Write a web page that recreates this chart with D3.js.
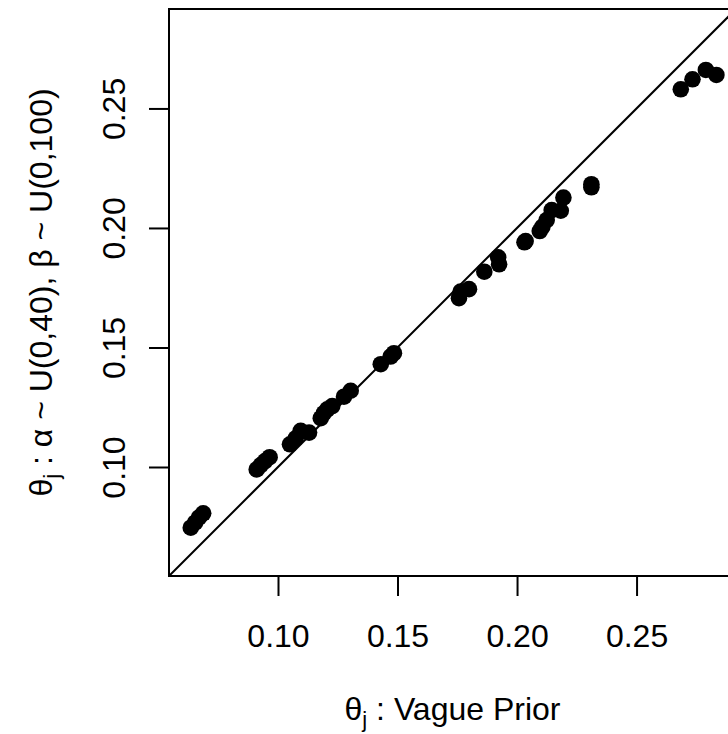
<!DOCTYPE html>
<html>
<head>
<meta charset="utf-8">
<script src="https://cdn.jsdelivr.net/npm/d3@7"></script>
<style>
  body { margin: 0; background: #fff; }
  text { font-family: "Liberation Sans", Arial, sans-serif; fill: #000; }
</style>
</head>
<body>
<div id="scatter"></div>
<script>
var svgWidth = 728;
var svgHeight = 734;

// theta_j under the vague prior (x) and under the uniform prior (y)
var vagueTheta = [
  0.0635, 0.0653, 0.0669, 0.0687,
  0.0911, 0.0928, 0.0946, 0.0965,
  0.1050, 0.1074, 0.1095, 0.1130,
  0.1179, 0.1192, 0.1206, 0.1227,
  0.1276, 0.1304,
  0.1430, 0.1471, 0.1485,
  0.1757, 0.1764, 0.1799,
  0.1863, 0.1921, 0.1925,
  0.2031, 0.2036,
  0.2095, 0.2106, 0.2124, 0.2145, 0.2183, 0.2194,
  0.2311, 0.2311,
  0.2685, 0.2734, 0.2790, 0.2834
];
var uniformTheta = [
  0.0746, 0.0767, 0.0788, 0.0806,
  0.0990, 0.1008, 0.1025, 0.1041,
  0.1095, 0.1120, 0.1151, 0.1144,
  0.1204, 0.1225, 0.1241, 0.1255,
  0.1294, 0.1319,
  0.1430, 0.1462, 0.1476,
  0.1706, 0.1734, 0.1744,
  0.1817, 0.1877, 0.1848,
  0.1940, 0.1945,
  0.1987, 0.2005, 0.2033, 0.2075, 0.2072, 0.2127,
  0.2183, 0.2170,
  0.2580, 0.2622, 0.2661, 0.2640
];
var tickValues = [0.10, 0.15, 0.20, 0.25];
var axisRange = [0.0544, 0.2916];

var plot = { left: 169, right: 736, top: 9, bottom: 576 };

var svg = d3
  .select("#scatter")
  .append("svg")
  .attr("width", svgWidth)
  .attr("height", svgHeight);

var xScale = d3.scaleLinear().domain(axisRange).range([plot.left, plot.right]);
var yScale = d3.scaleLinear().domain(axisRange).range([plot.bottom, plot.top]);

// axes, R style ticks pointing outwards
var bottomAxis = d3
  .axisBottom(xScale)
  .tickValues(tickValues)
  .tickSize(20)
  .tickFormat(d3.format(".2f"));
var leftAxis = d3
  .axisLeft(yScale)
  .tickValues(tickValues)
  .tickSize(20)
  .tickFormat(d3.format(".2f"));

var xAxis = svg
  .append("g")
  .attr("transform", `translate(0, ${plot.bottom})`)
  .call(bottomAxis);
xAxis.select(".domain").remove();
xAxis.selectAll("line").attr("stroke-width", 2);
xAxis
  .selectAll("text")
  .attr("y", 71)
  .attr("dy", 0)
  .style("font-size", "32px")
  .style("font-family", "Liberation Sans, Arial, sans-serif");

var yAxis = svg
  .append("g")
  .attr("transform", `translate(${plot.left}, 0)`)
  .call(leftAxis);
yAxis.select(".domain").remove();
yAxis.selectAll("line").attr("stroke-width", 2);
// labels read bottom to top, baseline toward the axis
yAxis
  .selectAll("text")
  .attr("x", 0)
  .attr("y", 0)
  .attr("dy", 0)
  .attr("text-anchor", "middle")
  .attr("transform", "translate(-44, 0) rotate(-90)")
  .style("font-size", "32px")
  .style("font-family", "Liberation Sans, Arial, sans-serif");

// box round the plot region
svg
  .append("rect")
  .attr("x", plot.left)
  .attr("y", plot.top)
  .attr("width", plot.right - plot.left)
  .attr("height", plot.bottom - plot.top)
  .attr("fill", "none")
  .attr("stroke", "#000")
  .attr("stroke-width", 2);

// y = x reference line
svg
  .append("line")
  .attr("x1", xScale(axisRange[0]))
  .attr("y1", yScale(axisRange[0]))
  .attr("x2", xScale(axisRange[1]))
  .attr("y2", yScale(axisRange[1]))
  .attr("stroke", "#000")
  .attr("stroke-width", 2);

// points
svg
  .append("g")
  .selectAll("circle")
  .data(vagueTheta)
  .enter()
  .append("circle")
  .attr("cx", d => xScale(d))
  .attr("cy", (d, i) => yScale(uniformTheta[i]))
  .attr("r", 8.3)
  .attr("fill", "#000");

// axis titles with subscript j
var xTitle = svg
  .append("text")
  .attr("x", (plot.left + plot.right) / 2)
  .attr("y", 720)
  .attr("text-anchor", "middle")
  .style("font-size", "32px");
xTitle.append("tspan").text("θ");
xTitle.append("tspan").attr("dy", 7).style("font-size", "22px").text("j");
xTitle.append("tspan").attr("dy", -7).text(" : Vague Prior");

var yTitle = svg
  .append("text")
  .attr("transform", `translate(52, ${(plot.top + plot.bottom) / 2}) rotate(-90)`)
  .attr("text-anchor", "middle")
  .style("font-size", "32px");
yTitle.append("tspan").text("θ");
yTitle.append("tspan").attr("dy", 7).style("font-size", "22px").text("j");
yTitle.append("tspan").attr("dy", -7).text(" : α ~ U(0,40), β ~ U(0,100)");
</script>
</body>
</html>
